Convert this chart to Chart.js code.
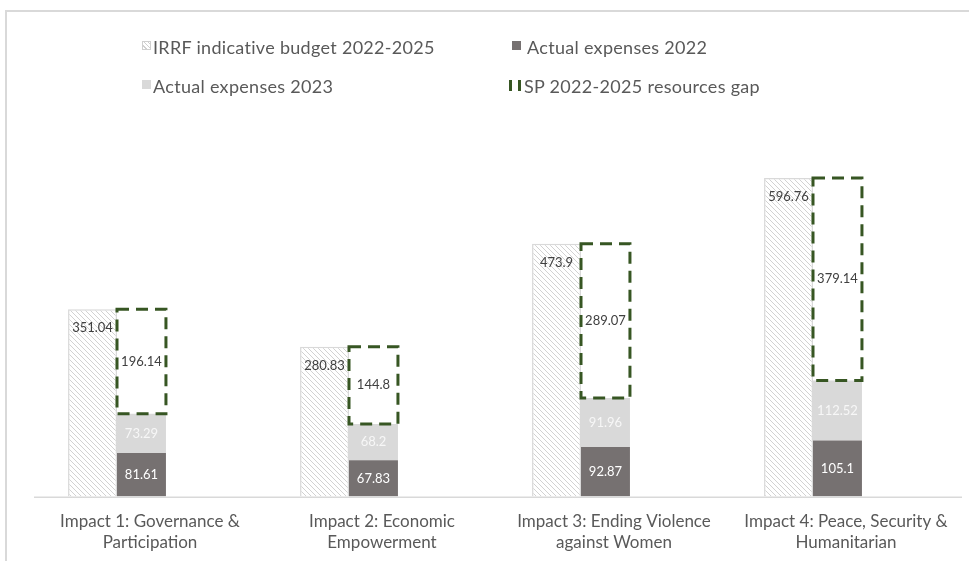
<!DOCTYPE html>
<html>
<head>
<meta charset="utf-8">
<script src="https://cdn.jsdelivr.net/npm/chart.js@4.4.1/dist/chart.umd.min.js"></script>
<style>
  html, body { margin: 0; padding: 0; background: #fff; }
  #wrap { position: relative; width: 969px; height: 561px; overflow: hidden; font-family: Lato, "Open Sans", sans-serif; }
  #frame { position: absolute; left: 5px; top: 10px; width: 1000px; height: 600px;
           border-top: 2px solid #d9d9d9; border-left: 2px solid #d9d9d9; box-sizing: border-box; }
  #chart { position: absolute; left: 0; top: 0; }
  .lg { position: absolute; font-size: 18px; letter-spacing: 0.3px; color: #595959; line-height: 20px; white-space: nowrap; }
  .sw { position: absolute; width: 9px; height: 9px; box-sizing: border-box; }
  .sw.hatch { border: 1px solid #d0d0d0;
              background: repeating-linear-gradient(45deg, #fff 0 2px, #d0d0d0 2px 3px); }
  .sw.dark { background: #767171; }
  .sw.light { background: #d9d9d9; }
  .sw.gapmark { width: 3px; height: 11px; background: #375623; }
</style>
</head>
<body>
<div id="wrap">
  <div id="frame"></div>
  <canvas id="chart" width="969" height="561"></canvas>
  <div class="sw hatch" style="left:142px; top:41px;"></div>
  <div class="lg" style="left:153px; top:37px;">IRRF indicative budget 2022-2025</div>
  <div class="sw dark" style="left:512px; top:41px;"></div>
  <div class="lg" style="left:527px; top:37px;">Actual expenses 2022</div>
  <div class="sw light" style="left:142px; top:80px;"></div>
  <div class="lg" style="left:153px; top:76px;">Actual expenses 2023</div>
  <div class="sw gapmark" style="left:509px; top:80px;"></div>
  <div class="sw gapmark" style="left:518px; top:80px;"></div>
  <div class="lg" style="left:524px; top:76px;">SP 2022-2025 resources gap</div>
</div>
<script>
// Impact areas (two-line tick labels)
const categories = [
  ["Impact 1: Governance &", "Participation"],
  ["Impact 2: Economic", "Empowerment"],
  ["Impact 3: Ending Violence", "against Women"],
  ["Impact 4: Peace, Security &", "Humanitarian"]
];

// Values in USD millions
const indicativeBudget = [351.04, 280.83, 473.9, 596.76];
const actualExpenses2022 = [81.61, 67.83, 92.87, 105.1];
const actualExpenses2023 = [73.29, 68.2, 91.96, 112.52];
const resourcesGap = [196.14, 144.8, 289.07, 379.14];

const FONT = 'Lato, "Open Sans", sans-serif';
const GROUP_SHIFT = 33; // tick labels sit right of the bar pair

// light diagonal hatch for the budget columns
function hatchPattern() {
  const c = document.createElement('canvas');
  c.width = 5; c.height = 5;
  const g = c.getContext('2d');
  g.fillStyle = '#ffffff';
  g.fillRect(0, 0, 5, 5);
  g.strokeStyle = '#d2d2d2';
  g.lineWidth = 1;
  g.beginPath();
  g.moveTo(-1, -1); g.lineTo(6, 6);
  g.moveTo(-1, 4); g.lineTo(1, 6);
  g.moveTo(4, -1); g.lineTo(6, 1);
  g.stroke();
  return document.getElementById('chart').getContext('2d').createPattern(c, 'repeat');
}

// dashed outline of the resources-gap segment, plus value labels
const barDecor = {
  id: 'barDecor',
  afterDatasetsDraw(chart) {
    const ctx = chart.ctx;
    ctx.save();
    const gapMeta = chart.getDatasetMeta(3);
    gapMeta.data.forEach(el => {
      const p = el.getProps(['x', 'y', 'base', 'width'], true);
      ctx.setLineDash([12, 7]);
      ctx.lineWidth = 3;
      ctx.strokeStyle = '#375623';
      ctx.strokeRect(p.x - p.width / 2, p.y, p.width, p.base - p.y);
    });
    ctx.setLineDash([]);
    ctx.font = '13px ' + FONT;
    ctx.textAlign = 'center';
    ctx.textBaseline = 'middle';
    chart.data.datasets.forEach((ds, i) => {
      const meta = chart.getDatasetMeta(i);
      meta.data.forEach((el, j) => {
        const p = el.getProps(['x', 'y', 'base'], true);
        const v = ds.data[j];
        let y = (p.y + p.base) / 2;
        if (i === 0) y = p.y + 19;
        ctx.fillStyle = ds.labelColor;
        ctx.fillText(String(v), p.x, y);
      });
    });
    ctx.restore();
  }
};

// horizontal category axis line under the bar pairs
const axisLine = {
  id: 'axisLine',
  afterDraw(chart) {
    const x = chart.scales.x;
    const n = chart.data.labels.length;
    const w = (x.getPixelForValue(1) - x.getPixelForValue(0));
    const left = x.getPixelForValue(0) - w / 2 + GROUP_SHIFT;
    const right = x.getPixelForValue(n - 1) + w / 2 + GROUP_SHIFT;
    const ctx = chart.ctx;
    ctx.save();
    ctx.strokeStyle = '#d9d9d9';
    ctx.lineWidth = 1.5;
    ctx.beginPath();
    ctx.moveTo(left, chart.chartArea.bottom + 0.75);
    ctx.lineTo(right, chart.chartArea.bottom + 0.75);
    ctx.stroke();
    ctx.restore();
  }
};

new Chart(document.getElementById('chart'), {
  type: 'bar',
  data: {
    labels: categories,
    datasets: [
      { label: 'IRRF indicative budget 2022-2025', data: indicativeBudget, stack: 'plan',
        backgroundColor: hatchPattern(), borderColor: '#d9d9d9', borderWidth: 1.5, labelColor: '#404040' },
      { label: 'Actual expenses 2022', data: actualExpenses2022, stack: 'actual',
        backgroundColor: '#767171', labelColor: '#ffffff' },
      { label: 'Actual expenses 2023', data: actualExpenses2023, stack: 'actual',
        backgroundColor: '#d9d9d9', labelColor: '#f7f7f7' },
      { label: 'SP 2022-2025 resources gap', data: resourcesGap, stack: 'actual',
        backgroundColor: '#ffffff', labelColor: '#404040' }
    ]
  },
  options: {
    responsive: false,
    animation: false,
    layout: { padding: { left: 1, right: 40, top: 123, bottom: 0 } },
    datasets: { bar: { categoryPercentage: 0.422, barPercentage: 1 } },
    plugins: { legend: { display: false }, tooltip: { enabled: false } },
    scales: {
      x: {
        stacked: true,
        grid: { display: false, drawTicks: false },
        border: { display: false },
        ticks: {
          labelOffset: GROUP_SHIFT,
          maxRotation: 0, autoSkip: false, padding: 14,
          color: '#595959',
          font: { family: FONT, size: 17, lineHeight: 1.25 }
        },
        afterFit(scale) { scale.height = 64.5; }
      },
      y: {
        stacked: true,
        display: false,
        min: 0, max: 700
      }
    }
  },
  plugins: [barDecor, axisLine]
});
</script>
</body>
</html>
